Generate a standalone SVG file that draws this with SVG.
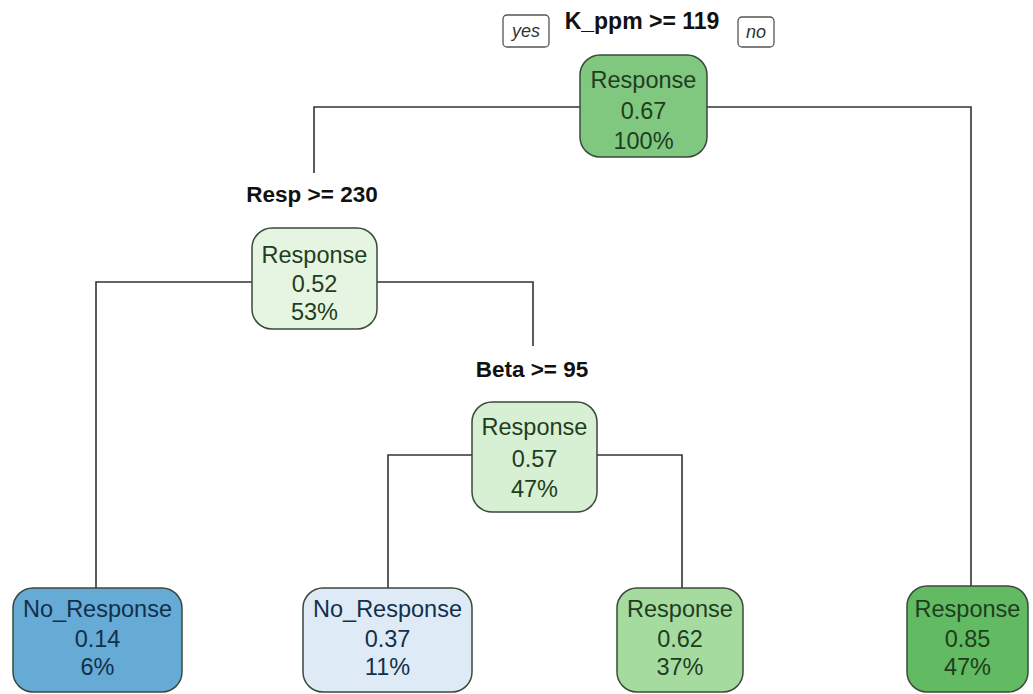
<svg xmlns="http://www.w3.org/2000/svg" width="1033" height="694" viewBox="0 0 1033 694">
<style>
.box{stroke:#3a4a3a;stroke-width:1.5}
.t{font-family:"Liberation Sans",Arial,sans-serif;font-size:23.5px;text-anchor:middle}
.g{fill:#1f3d1f}
.b{fill:#12304a}
.split{font-family:"Liberation Sans",Arial,sans-serif;font-size:22.5px;font-weight:bold;text-anchor:middle;fill:#111}
.yn{font-family:"Liberation Sans",Arial,sans-serif;font-size:18px;font-style:italic;text-anchor:middle;fill:#333}
.ynbox{fill:#fff;stroke:#555;stroke-width:1.3}
.edge{fill:none;stroke:#333;stroke-width:1.6}
</style>
<rect width="1033" height="694" fill="#fff"/>
<g id="connectors">
<polyline class="edge" points="580,107 314,107 314,173"/>
<polyline class="edge" points="707,107 971,107 971,586"/>
<polyline class="edge" points="252,282 96,282 96,588"/>
<polyline class="edge" points="377,282 533,282 533,346"/>
<polyline class="edge" points="472,455 388,455 388,588"/>
<polyline class="edge" points="597,455 682,455 682,588"/>
</g>
<g id="labels">
<rect class="ynbox" x="503" y="15" width="46" height="32" rx="4"/>
<text class="yn" x="526" y="37">yes</text>
<rect class="ynbox" x="738" y="17" width="36" height="30" rx="4"/>
<text class="yn" x="756" y="38">no</text>
<text class="split" x="642" y="29" style="font-size:23px">K_ppm &gt;= 119</text>
<text class="split" x="312" y="202">Resp &gt;= 230</text>
<text class="split" x="532" y="377">Beta &gt;= 95</text>
</g>
<g id="node-root">
<rect class="box" x="580" y="55" width="127" height="102" rx="20" fill="#80c880"/>
<text class="t g" x="643.5" y="88">Response</text>
<text class="t g" x="643.5" y="119">0.67</text>
<text class="t g" x="643.5" y="149">100%</text>
</g>
<g id="node-resp">
<rect class="box" x="252" y="228" width="125" height="101" rx="20" fill="#e6f5e1"/>
<text class="t g" x="314.5" y="263">Response</text>
<text class="t g" x="314.5" y="292">0.52</text>
<text class="t g" x="314.5" y="320">53%</text>
</g>
<g id="node-beta">
<rect class="box" x="472" y="402" width="125" height="110" rx="20" fill="#d7efd2"/>
<text class="t g" x="534.5" y="435">Response</text>
<text class="t g" x="534.5" y="467">0.57</text>
<text class="t g" x="534.5" y="497">47%</text>
</g>
<g id="leaf-1">
<rect class="box" x="13" y="588" width="169" height="104" rx="20" fill="#66aad6"/>
<text class="t b" x="97.5" y="617">No_Response</text>
<text class="t b" x="97.5" y="647">0.14</text>
<text class="t b" x="97.5" y="675">6%</text>
</g>
<g id="leaf-2">
<rect class="box" x="303" y="588" width="169" height="104" rx="20" fill="#deebf7"/>
<text class="t b" x="387.5" y="617">No_Response</text>
<text class="t b" x="387.5" y="647">0.37</text>
<text class="t b" x="387.5" y="675">11%</text>
</g>
<g id="leaf-3">
<rect class="box" x="617" y="588" width="126" height="104" rx="20" fill="#a6dba0"/>
<text class="t g" x="680" y="617">Response</text>
<text class="t g" x="680" y="647">0.62</text>
<text class="t g" x="680" y="675">37%</text>
</g>
<g id="leaf-4">
<rect class="box" x="907" y="586" width="121" height="106" rx="20" fill="#62ba62"/>
<text class="t g" x="967.5" y="617">Response</text>
<text class="t g" x="967.5" y="647">0.85</text>
<text class="t g" x="967.5" y="675">47%</text>
</g>
</svg>
